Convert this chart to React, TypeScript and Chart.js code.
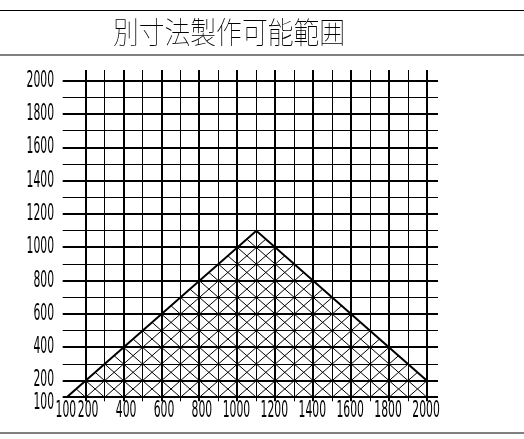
import React, { useEffect, useRef } from 'react';
import { Chart, registerables } from 'chart.js';

Chart.register(...registerables);

const TITLE = '別寸法製作可能範囲';

// grid lines every 100 (thick at multiples of 200)
const GRID_VALUES = [100, 200, 300, 400, 500, 600, 700, 800, 900, 1000, 1100, 1200, 1300, 1400, 1500, 1600, 1700, 1800, 1900, 2000];
const X_LABEL_VALUES = [100, 200, 400, 600, 800, 1000, 1200, 1400, 1600, 1800, 2000];
const Y_LABEL_VALUES = [100, 200, 400, 600, 800, 1000, 1200, 1400, 1600, 1800, 2000];

// feasible region boundary (width x height)
const REGION_X = [100, 1100, 2000, 2000];
const REGION_Y = [100, 1100, 200, 100];

const X_MIN = 100;
const X_MAX = 2058;
const Y_MIN = 100;
const Y_MAX = 2066;

const LABEL_FONT = '22.5px "Liberation Sans Narrow", "DejaVu Sans Condensed", "Liberation Sans", sans-serif';
const TITLE_FONT = '100 30px "Noto Sans CJK JP", "Noto Sans CJK SC", sans-serif';

const hatchPlugin = {
  id: 'hatch',
  beforeDatasetsDraw(chart: any) {
    const meta = chart.getDatasetMeta(0);
    const pts = meta.data;
    if (!pts || !pts.length) return;
    const xs = chart.scales.x;
    const ys = chart.scales.y;
    const ctx = chart.ctx;
    ctx.save();
    ctx.beginPath();
    pts.forEach((p: any, i: number) => (i ? ctx.lineTo(p.x, p.y) : ctx.moveTo(p.x, p.y)));
    ctx.closePath();
    ctx.clip();
    ctx.lineWidth = 1;
    ctx.strokeStyle = '#000';
    ctx.beginPath();
    for (let k = -2000; k <= 100; k += 100) {
      ctx.moveTo(xs.getPixelForValue(0), ys.getPixelForValue(0 + k));
      ctx.lineTo(xs.getPixelForValue(2200), ys.getPixelForValue(2200 + k));
    }
    for (let k = 0; k <= 4400; k += 100) {
      ctx.moveTo(xs.getPixelForValue(0), ys.getPixelForValue(k));
      ctx.lineTo(xs.getPixelForValue(2200), ys.getPixelForValue(k - 2200));
    }
    ctx.stroke();
    ctx.restore();
  },
};

const decorPlugin = {
  id: 'decor',
  afterDraw(chart: any) {
    const ctx = chart.ctx;
    const W = chart.width;
    const xs = chart.scales.x;
    const ys = chart.scales.y;
    ctx.save();
    // frame lines
    ctx.strokeStyle = '#000';
    ctx.lineWidth = 1;
    ctx.beginPath();
    ctx.moveTo(0, 10.5);
    ctx.lineTo(W, 10.5);
    ctx.stroke();
    ctx.strokeStyle = '#808080';
    ctx.lineWidth = 2;
    ctx.beginPath();
    ctx.moveTo(0, 55);
    ctx.lineTo(W, 55);
    ctx.moveTo(0, 433);
    ctx.lineTo(W, 433);
    ctx.stroke();

    // title
    ctx.fillStyle = '#000';
    ctx.font = TITLE_FONT;
    ctx.textAlign = 'center';
    ctx.textBaseline = 'middle';
    const tw = ctx.measureText(TITLE).width;
    const tsx = 232 / tw;
    ctx.save();
    ctx.translate(229, 31.5);
    ctx.scale(tsx, 1);
    ctx.fillText(TITLE, 0, 0);
    ctx.restore();

    // tick labels (condensed)
    ctx.font = LABEL_FONT;
    const lw = ctx.measureText('2000').width;
    const sx = 27.5 / lw;
    ctx.textBaseline = 'middle';
    ctx.textAlign = 'right';
    Y_LABEL_VALUES.forEach((v) => {
      const y = ys.getPixelForValue(v) + (v === Y_MIN ? 6 : 0);
      ctx.save();
      ctx.translate(54, y);
      ctx.scale(sx, 1);
      ctx.fillText(String(v), 0, 0);
      ctx.restore();
    });
    X_LABEL_VALUES.forEach((v) => {
      const x = xs.getPixelForValue(v) + (v === X_MIN ? 9.5 : 12.8);
      ctx.save();
      ctx.translate(x, 411);
      ctx.scale(sx, 1);
      ctx.fillText(String(v), 0, 0);
      ctx.restore();
    });
    ctx.restore();
  },
};

export default function App() {
  const canvasRef = useRef<HTMLCanvasElement | null>(null);

  useEffect(() => {
    const canvas = canvasRef.current;
    if (!canvas) return;
    const chart = new Chart(canvas, {
      type: 'scatter',
      data: {
        datasets: [
          {
            data: REGION_X.map((x, i) => ({ x, y: REGION_Y[i] })),
            showLine: true,
            borderColor: '#000',
            borderWidth: 2,
            pointRadius: 0,
            fill: false,
            tension: 0,
          } as any,
        ],
      },
      options: {
        animation: false,
        responsive: false,
        devicePixelRatio: 1,
        events: [],
        layout: { padding: { left: 62.7, top: 70, right: 86, bottom: 37.7 } },
        plugins: {
          legend: { display: false },
          tooltip: { enabled: false },
          title: { display: false },
        },
        scales: {
          x: {
            type: 'linear',
            min: X_MIN,
            max: X_MAX,
            afterBuildTicks: (s: any) => {
              s.ticks = GRID_VALUES.map((v) => ({ value: v }));
            },
            ticks: { display: false },
            border: { display: false },
            grid: {
              color: (c: any) => (c.tick && c.tick.value === X_MIN ? 'rgba(0,0,0,0)' : '#000'),
              lineWidth: (c: any) => (c.tick && c.tick.value % 200 === 0 ? 2 : 1),
              tickLength: 4,
              drawTicks: true,
            },
          },
          y: {
            type: 'linear',
            min: Y_MIN,
            max: Y_MAX,
            afterBuildTicks: (s: any) => {
              s.ticks = GRID_VALUES.map((v) => ({ value: v }));
            },
            ticks: { display: false },
            border: { display: false },
            grid: {
              color: '#000',
              lineWidth: (c: any) => (c.tick && (c.tick.value % 200 === 0 || c.tick.value === Y_MIN) ? 2 : 1),
              tickLength: 4,
              drawTicks: true,
            },
          },
        },
      } as any,
      plugins: [hatchPlugin, decorPlugin],
    });
    return () => chart.destroy();
  }, []);

  return (
    <div style={{ position: 'absolute', left: 0, top: 0, width: 524, height: 439, background: '#fff' }}>
      <canvas ref={canvasRef} width={524} height={439} style={{ display: 'block', width: 524, height: 439 }} />
    </div>
  );
}
